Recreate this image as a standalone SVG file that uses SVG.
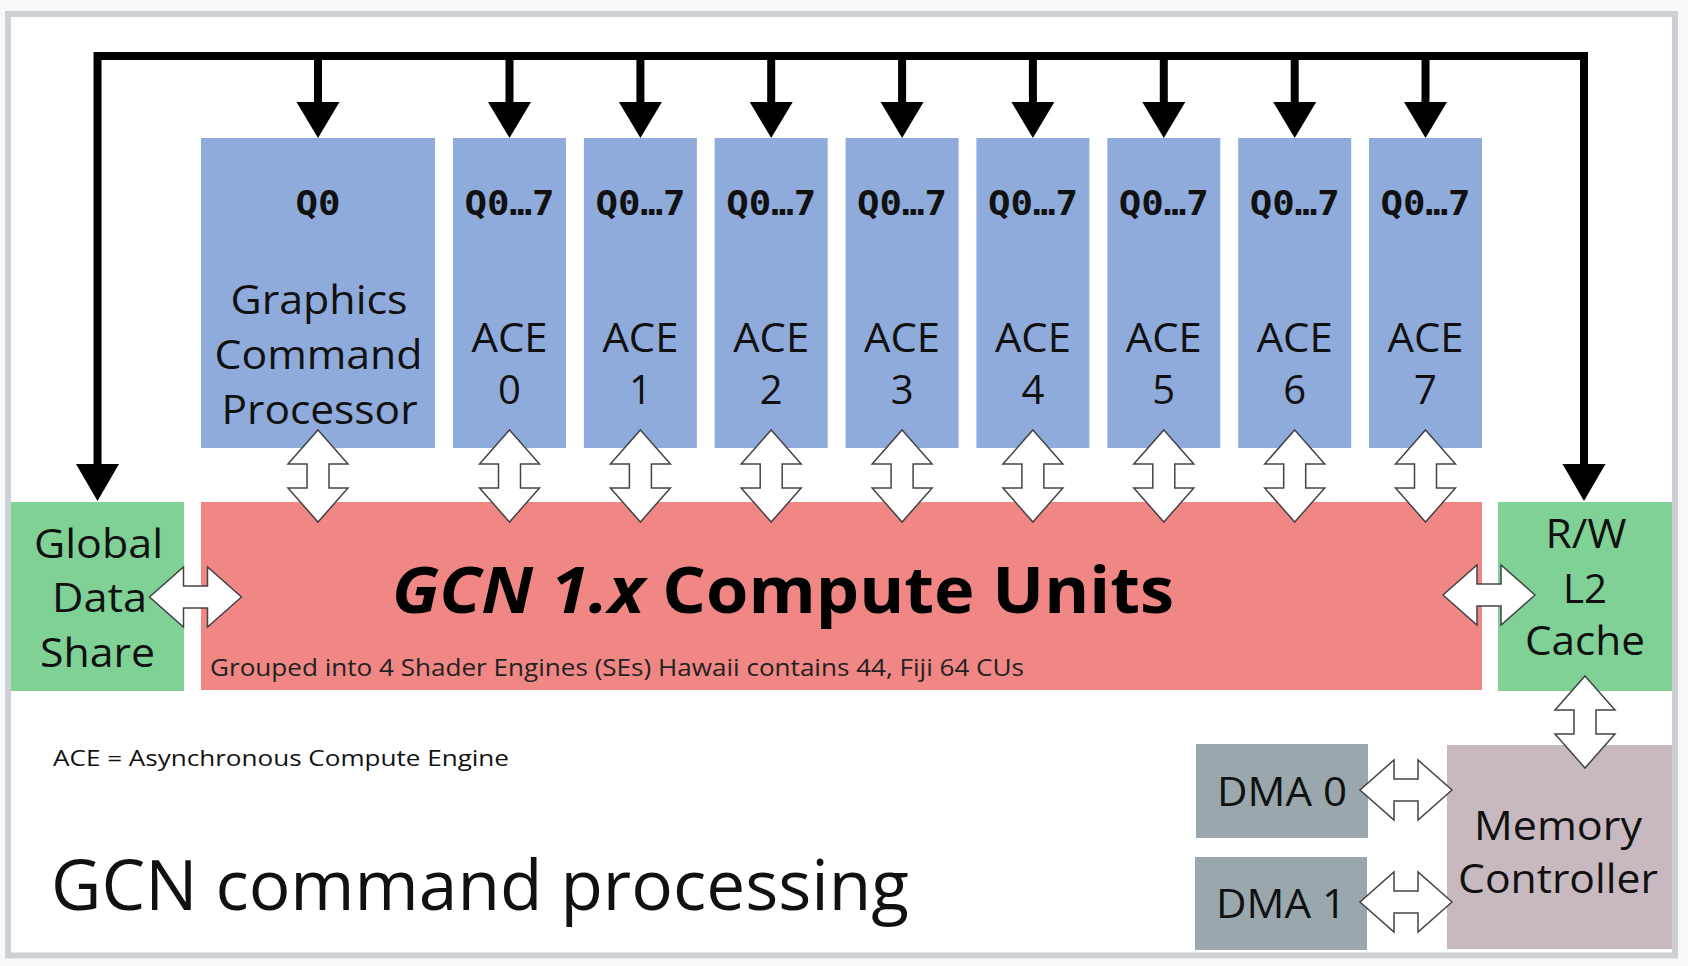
<svg xmlns="http://www.w3.org/2000/svg" xmlns:xlink="http://www.w3.org/1999/xlink" width="1688" height="966" viewBox="0 0 1688 966">
<style>
.lbl{font-family:"Open Sans","Noto Sans","DejaVu Sans",sans-serif;font-size:40px;fill:#111;text-anchor:middle}
.q{font-family:"DejaVu Sans Mono","Liberation Mono",monospace;font-weight:bold;font-size:33px;fill:#111;text-anchor:middle}
.blue{fill:#8eabdb}
.green{fill:#7fd196}
.red{fill:#f08784}
.dma{fill:#9aa8ad}
.mc{fill:#c8b8c0}
.dbl{fill:#fff;stroke:#444;stroke-width:1.5;stroke-linejoin:miter}
.wire{fill:none;stroke:#000;stroke-width:8;stroke-linejoin:miter}
.head{fill:#000}
</style>
<defs>
<path id="dbl" d="M0,-46 L30,-12 L11,-12 L11,12 L30,12 L0,46 L-30,12 L-11,12 L-11,-12 L-30,-12 Z"/>
</defs>
<rect x="0" y="0" width="1688" height="966" fill="#f8f9fa"/>
<rect x="8" y="14" width="1667" height="941.5" fill="#ffffff" stroke="#cdd0d5" stroke-width="6"/>

<g id="gcp">
<rect class="blue" x="201" y="138" width="234" height="310"/>
<text class="q" x="318" y="215" textLength="45" lengthAdjust="spacingAndGlyphs">Q0</text>
<text class="lbl" x="319" y="314" textLength="177" lengthAdjust="spacingAndGlyphs">Graphics</text>
<text class="lbl" x="318.5" y="369" textLength="208" lengthAdjust="spacingAndGlyphs">Command</text>
<text class="lbl" x="319.5" y="424" textLength="196" lengthAdjust="spacingAndGlyphs">Processor</text>
</g>
<g id="ace0">
<rect class="blue" x="453" y="138" width="113" height="310"/>
<text class="q" x="509.5" y="215" textLength="90" lengthAdjust="spacingAndGlyphs">Q0…7</text>
<text class="lbl" x="509.5" y="352" textLength="76" lengthAdjust="spacingAndGlyphs">ACE</text>
<text class="lbl" x="509.5" y="404">0</text>
</g>
<g id="ace1">
<rect class="blue" x="583.9" y="138" width="113" height="310"/>
<text class="q" x="640.4" y="215" textLength="90" lengthAdjust="spacingAndGlyphs">Q0…7</text>
<text class="lbl" x="640.4" y="352" textLength="76" lengthAdjust="spacingAndGlyphs">ACE</text>
<text class="lbl" x="640.4" y="404">1</text>
</g>
<g id="ace2">
<rect class="blue" x="714.7" y="138" width="113" height="310"/>
<text class="q" x="771.2" y="215" textLength="90" lengthAdjust="spacingAndGlyphs">Q0…7</text>
<text class="lbl" x="771.2" y="352" textLength="76" lengthAdjust="spacingAndGlyphs">ACE</text>
<text class="lbl" x="771.2" y="404">2</text>
</g>
<g id="ace3">
<rect class="blue" x="845.6" y="138" width="113" height="310"/>
<text class="q" x="902.1" y="215" textLength="90" lengthAdjust="spacingAndGlyphs">Q0…7</text>
<text class="lbl" x="902.1" y="352" textLength="76" lengthAdjust="spacingAndGlyphs">ACE</text>
<text class="lbl" x="902.1" y="404">3</text>
</g>
<g id="ace4">
<rect class="blue" x="976.4" y="138" width="113" height="310"/>
<text class="q" x="1032.9" y="215" textLength="90" lengthAdjust="spacingAndGlyphs">Q0…7</text>
<text class="lbl" x="1032.9" y="352" textLength="76" lengthAdjust="spacingAndGlyphs">ACE</text>
<text class="lbl" x="1032.9" y="404">4</text>
</g>
<g id="ace5">
<rect class="blue" x="1107.3" y="138" width="113" height="310"/>
<text class="q" x="1163.8" y="215" textLength="90" lengthAdjust="spacingAndGlyphs">Q0…7</text>
<text class="lbl" x="1163.8" y="352" textLength="76" lengthAdjust="spacingAndGlyphs">ACE</text>
<text class="lbl" x="1163.8" y="404">5</text>
</g>
<g id="ace6">
<rect class="blue" x="1238.2" y="138" width="113" height="310"/>
<text class="q" x="1294.7" y="215" textLength="90" lengthAdjust="spacingAndGlyphs">Q0…7</text>
<text class="lbl" x="1294.7" y="352" textLength="76" lengthAdjust="spacingAndGlyphs">ACE</text>
<text class="lbl" x="1294.7" y="404">6</text>
</g>
<g id="ace7">
<rect class="blue" x="1369" y="138" width="113" height="310"/>
<text class="q" x="1425.5" y="215" textLength="90" lengthAdjust="spacingAndGlyphs">Q0…7</text>
<text class="lbl" x="1425.5" y="352" textLength="76" lengthAdjust="spacingAndGlyphs">ACE</text>
<text class="lbl" x="1425.5" y="404">7</text>
</g>

<g id="gds">
<rect class="green" x="11" y="502" width="173" height="189"/>
<text class="lbl" x="98.5" y="558" textLength="129" lengthAdjust="spacingAndGlyphs">Global</text>
<text class="lbl" x="99.5" y="612" textLength="95" lengthAdjust="spacingAndGlyphs">Data</text>
<text class="lbl" x="97.5" y="667" textLength="115" lengthAdjust="spacingAndGlyphs">Share</text>
</g>
<g id="cu">
<rect class="red" x="201" y="502" width="1281" height="188"/>
<text x="392" y="613" textLength="782" lengthAdjust="spacingAndGlyphs" style="font-family:'Open Sans','Noto Sans',sans-serif;font-weight:bold;font-size:64px;fill:#000"><tspan font-style="italic">GCN 1.x</tspan> Compute Units</text>
<text x="210" y="676" textLength="814" lengthAdjust="spacingAndGlyphs" style="font-family:'Open Sans','Noto Sans',sans-serif;font-size:24px;fill:#222">Grouped into 4 Shader Engines (SEs) Hawaii contains 44, Fiji 64 CUs</text>
</g>
<g id="l2">
<rect class="green" x="1498" y="502" width="174" height="189"/>
<text class="lbl" x="1586" y="548" textLength="81" lengthAdjust="spacingAndGlyphs">R/W</text>
<text class="lbl" x="1585" y="603" textLength="44" lengthAdjust="spacingAndGlyphs">L2</text>
<text class="lbl" x="1585" y="655" textLength="120" lengthAdjust="spacingAndGlyphs">Cache</text>
</g>
<g id="dma0">
<rect class="dma" x="1196" y="744" width="172" height="94"/>
<text class="lbl" x="1282" y="806" textLength="130" lengthAdjust="spacingAndGlyphs">DMA 0</text>
</g>
<g id="dma1">
<rect class="dma" x="1195" y="857" width="172" height="93"/>
<text class="lbl" x="1281" y="918" textLength="130" lengthAdjust="spacingAndGlyphs">DMA 1</text>
</g>
<g id="mc">
<rect class="mc" x="1447" y="745" width="225" height="204"/>
<text class="lbl" x="1558" y="840" textLength="168" lengthAdjust="spacingAndGlyphs">Memory</text>
<text class="lbl" x="1558" y="893" textLength="200" lengthAdjust="spacingAndGlyphs">Controller</text>
</g>

<g id="notes">
<text x="53" y="766" textLength="456" lengthAdjust="spacingAndGlyphs" style="font-family:'Open Sans','Noto Sans',sans-serif;font-size:21px;fill:#111">ACE = Asynchronous Compute Engine</text>
<text x="51" y="910" textLength="858" lengthAdjust="spacingAndGlyphs" style="font-family:'Open Sans','Noto Sans',sans-serif;font-size:70px;fill:#111">GCN command processing</text>
</g>

<g id="connectors">
<path class="wire" d="M97.5,466 V56 H1584 V466"/>
<path class="wire" d="M318,56 V104 M509.5,56 V104 M640.4,56 V104 M771.2,56 V104 M902.1,56 V104 M1032.9,56 V104 M1163.8,56 V104 M1294.7,56 V104 M1425.5,56 V104"/>
<polygon class="head" points="296.5,102 339.5,102 318,138"/>
<polygon class="head" points="488,102 531,102 509.5,138"/>
<polygon class="head" points="618.9,102 661.9,102 640.4,138"/>
<polygon class="head" points="749.7,102 792.7,102 771.2,138"/>
<polygon class="head" points="880.6,102 923.6,102 902.1,138"/>
<polygon class="head" points="1011.4,102 1054.4,102 1032.9,138"/>
<polygon class="head" points="1142.3,102 1185.3,102 1163.8,138"/>
<polygon class="head" points="1273.2,102 1316.2,102 1294.7,138"/>
<polygon class="head" points="1404,102 1447,102 1425.5,138"/>
<polygon class="head" points="76,464 119,464 97.5,501"/>
<polygon class="head" points="1562.5,464 1605.5,464 1584,501"/>
<use xlink:href="#dbl" class="dbl" transform="translate(318,476)"/>
<use xlink:href="#dbl" class="dbl" transform="translate(509.5,476)"/>
<use xlink:href="#dbl" class="dbl" transform="translate(640.4,476)"/>
<use xlink:href="#dbl" class="dbl" transform="translate(771.2,476)"/>
<use xlink:href="#dbl" class="dbl" transform="translate(902.1,476)"/>
<use xlink:href="#dbl" class="dbl" transform="translate(1032.9,476)"/>
<use xlink:href="#dbl" class="dbl" transform="translate(1163.8,476)"/>
<use xlink:href="#dbl" class="dbl" transform="translate(1294.7,476)"/>
<use xlink:href="#dbl" class="dbl" transform="translate(1425.5,476)"/>
<use xlink:href="#dbl" class="dbl" transform="translate(195.5,597) rotate(90)"/>
<use xlink:href="#dbl" class="dbl" transform="translate(1489,595) rotate(90)"/>
<use xlink:href="#dbl" class="dbl" transform="translate(1585,722)"/>
<use xlink:href="#dbl" class="dbl" transform="translate(1406,790) rotate(90)"/>
<use xlink:href="#dbl" class="dbl" transform="translate(1406,902) rotate(90)"/>
</g>
</svg>
